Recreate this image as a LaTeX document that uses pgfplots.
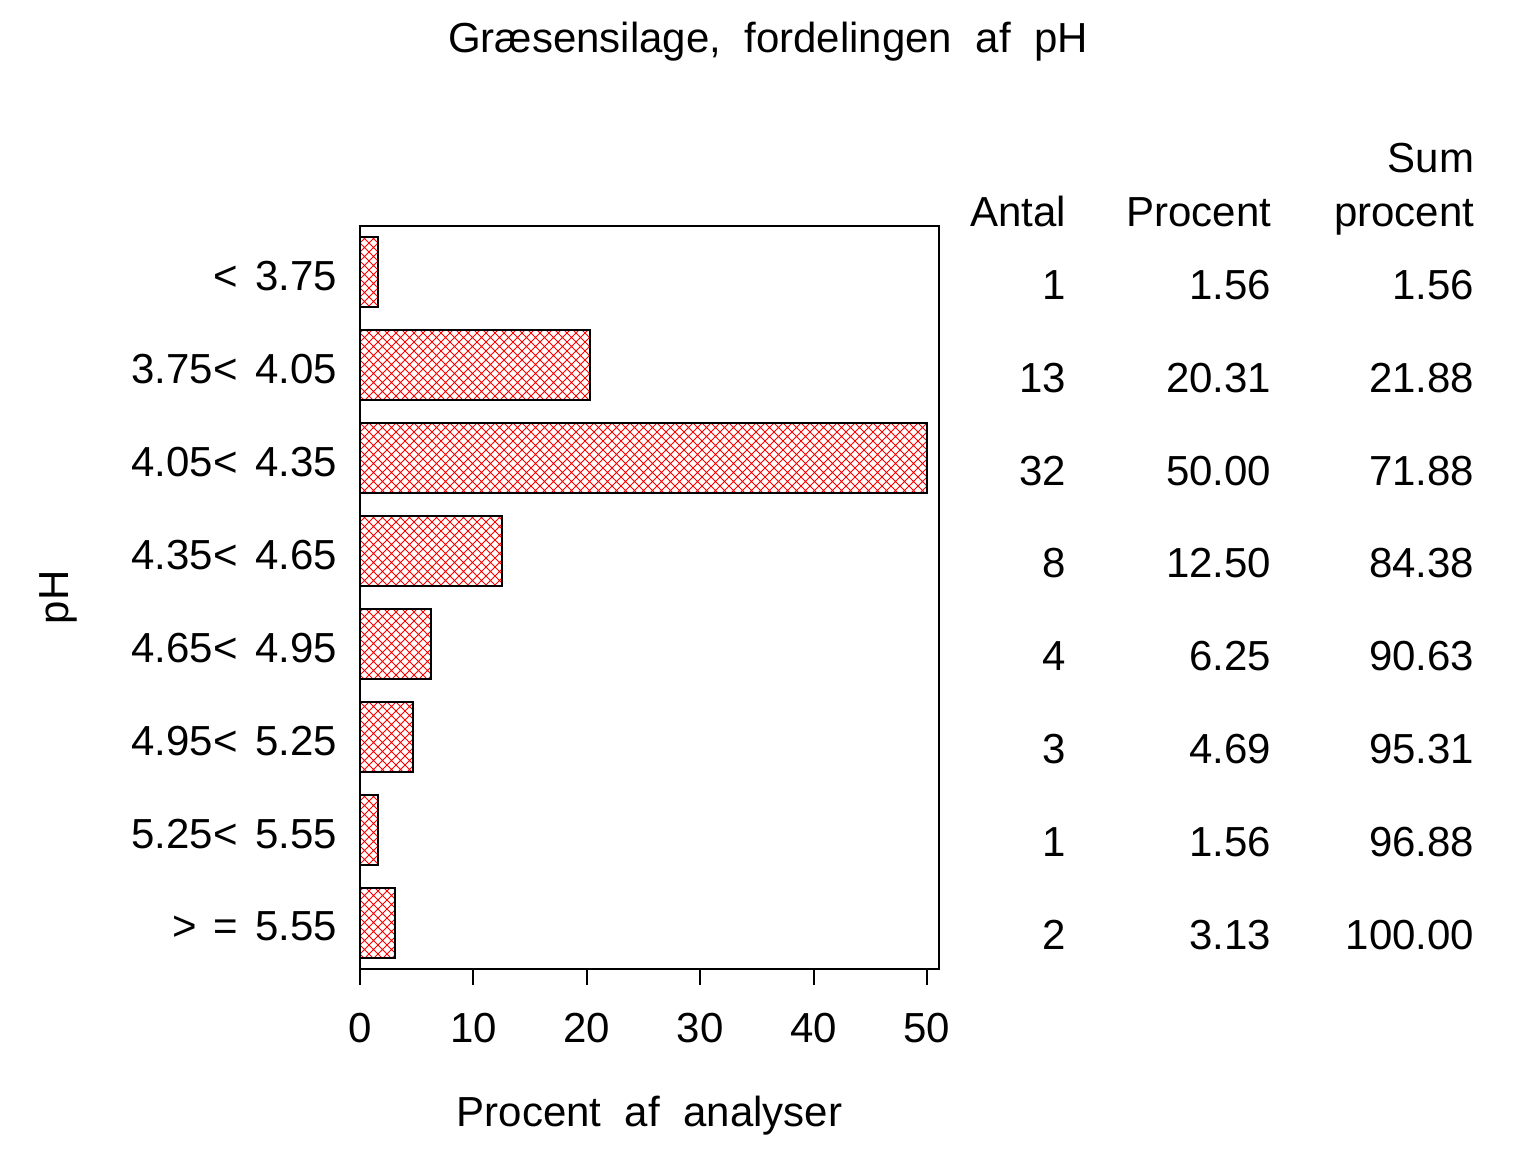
\documentclass[border=0pt]{standalone}
\usepackage{fontspec}
\setmainfont{Liberation Sans}[WordSpace=2]
\usepackage{pgfplots}
\pgfplotsset{compat=1.18}
\usepackage{pgfplotstable}
\usetikzlibrary{patterns}

\pgfdeclarepatternformonly{diagx}{\pgfqpoint{-0.5pt}{-0.5pt}}{\pgfqpoint{2.75pt}{2.75pt}}{\pgfqpoint{2.25pt}{2.25pt}}{%
  \pgfsetlinewidth{0.25pt}%
  \pgfpathmoveto{\pgfqpoint{0pt}{0pt}}\pgfpathlineto{\pgfqpoint{2.25pt}{2.25pt}}%
  \pgfpathmoveto{\pgfqpoint{0pt}{2.25pt}}\pgfpathlineto{\pgfqpoint{2.25pt}{0pt}}%
  \pgfusepath{stroke}}

\newcommand\tfont{\fontsize{10.5}{12.6}\selectfont}

\pgfplotstableread{
pos pct antal pctlab cum
0 1.56 1 1.56 1.56
1 20.31 13 20.31 21.88
2 50.00 32 50.00 71.88
3 12.50 8 12.50 84.38
4 6.25 4 6.25 90.63
5 4.69 3 4.69 95.31
6 1.56 1 1.56 96.88
7 3.13 2 3.13 100.00
}\tbl

\begin{document}
\begin{tikzpicture}
\fill[white,use as bounding box] (0,0) rectangle (384pt,288pt);
\begin{axis}[
  at={(90pt,45.75pt)}, anchor=south west,
  scale only axis, width=144.75pt, height=185.75pt,
  xmin=0, xmax=51.06, ymin=-0.5, ymax=7.5, y dir=reverse,
  clip=false,
  axis line style={line width=0.5pt},
  xtick={0,10,...,50}, xtick pos=left, tick align=outside,
  major tick length=4pt,
  xtick style={line width=0.5pt, black},
  ytick={0,...,7},
  yticklabels={{<\hspace{4.3pt}3.75},{3.75<\hspace{4.3pt}4.05},{4.05<\hspace{4.3pt}4.35},{4.35<\hspace{4.3pt}4.65},{4.65<\hspace{4.3pt}4.95},{4.95<\hspace{4.3pt}5.25},{5.25<\hspace{4.3pt}5.55},{>\hspace{4.2pt}=\hspace{4.2pt}5.55}},
  ytick style={draw=none},
  /pgf/number format/assume math mode=true,
  xticklabel style={font=\tfont, anchor=base, inner sep=0pt, yshift=-14.5pt},
  yticklabel style={font=\tfont, anchor=east, inner sep=0pt, xshift=-1.6pt, yshift=-1pt},
  title={Græsensilage, fordelingen af pH},
  xlabel={Procent af analyser},
  ylabel={pH},
  every axis title/.style={at={(rel axis cs:0.7047,1.2329)}, anchor=base, font=\tfont, inner sep=0pt},
  every axis x label/.style={at={(rel axis cs:0.5,0)}, yshift=-39.5pt, anchor=base, font=\tfont, inner sep=0pt},
  every axis y label/.style={at={(rel axis cs:0,0.5)}, xshift=-75.5pt, rotate=90, anchor=center, font=\tfont, inner sep=0pt},
]
\addplot[xbar, bar width=17.5pt, bar shift=0pt, draw=black, line width=0.5pt, pattern=diagx, pattern color=red]
  table[x=pct, y=pos] {\tbl};
\addplot[draw=none, mark=none, nodes near coords, point meta=explicit symbolic,
  nodes near coords style={anchor=base east, inner sep=0pt, font=\tfont, text=black}]
  table[x expr=62.35, y expr=\thisrow{pos}+0.29, meta=antal] {\tbl};
\addplot[draw=none, mark=none, nodes near coords, point meta=explicit symbolic,
  nodes near coords style={anchor=base east, inner sep=0pt, font=\tfont, text=black}]
  table[x expr=80.42, y expr=\thisrow{pos}+0.29, meta=pctlab] {\tbl};
\addplot[draw=none, mark=none, nodes near coords, point meta=explicit symbolic,
  nodes near coords style={anchor=base east, inner sep=0pt, font=\tfont, text=black}]
  table[x expr=98.32, y expr=\thisrow{pos}+0.29, meta=cum] {\tbl};
\node[anchor=base east, inner sep=0pt, font=\tfont] at (axis cs:62.35,-0.49) {Antal};
\node[anchor=base east, inner sep=0pt, font=\tfont] at (axis cs:80.42,-0.49) {Procent};
\node[anchor=base east, inner sep=0pt, font=\tfont] at (axis cs:98.32,-0.49) {procent};
\node[anchor=base east, inner sep=0pt, font=\tfont] at (axis cs:98.32,-1.075) {Sum};
\end{axis}
\end{tikzpicture}
\end{document}
